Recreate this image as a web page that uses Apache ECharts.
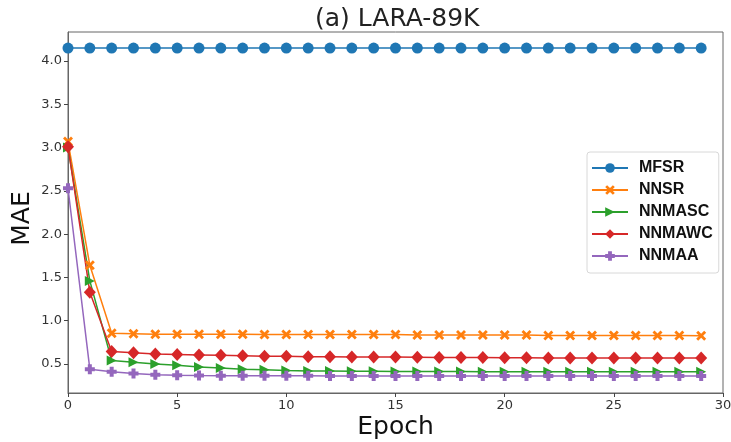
<!DOCTYPE html>
<html>
<head>
<meta charset="utf-8">
<title>(a) LARA-89K</title>
<script src="https://cdn.jsdelivr.net/npm/echarts@6/dist/echarts.min.js"></script>
<style>
  html, body { margin: 0; padding: 0; background: #fff; }
  #main { width: 731px; height: 442px; }
</style>
</head>
<body>
<div id="main"></div>
<script>
// values
var epochs = [0, 1, 2, 3, 4, 5, 6, 7, 8, 9, 10, 11, 12, 13, 14, 15, 16, 17, 18, 19, 20, 21, 22, 23, 24, 25, 26, 27, 28, 29];
var mfsr = [4.15, 4.15, 4.15, 4.15, 4.15, 4.15, 4.15, 4.15, 4.15, 4.15, 4.15, 4.15, 4.15, 4.15, 4.15, 4.15, 4.15, 4.15, 4.15, 4.15, 4.15, 4.15, 4.15, 4.15, 4.15, 4.15, 4.15, 4.15, 4.15, 4.15];
var nnsr = [3.07, 1.64, 0.855, 0.85, 0.845, 0.845, 0.845, 0.845, 0.845, 0.84, 0.84, 0.84, 0.84, 0.84, 0.84, 0.84, 0.835, 0.835, 0.835, 0.835, 0.835, 0.835, 0.83, 0.83, 0.83, 0.83, 0.83, 0.83, 0.83, 0.825];
var nnmasc = [3.0, 1.46, 0.54, 0.52, 0.50, 0.485, 0.465, 0.455, 0.44, 0.435, 0.425, 0.42, 0.418, 0.415, 0.415, 0.413, 0.413, 0.412, 0.412, 0.41, 0.41, 0.41, 0.41, 0.41, 0.41, 0.41, 0.41, 0.41, 0.41, 0.41];
var nnmawc = [3.01, 1.33, 0.645, 0.63, 0.615, 0.61, 0.605, 0.60, 0.595, 0.59, 0.59, 0.585, 0.585, 0.58, 0.58, 0.58, 0.578, 0.575, 0.575, 0.575, 0.572, 0.572, 0.57, 0.57, 0.57, 0.57, 0.57, 0.57, 0.57, 0.57];
var nnmaa = [2.53, 0.44, 0.41, 0.39, 0.375, 0.37, 0.367, 0.365, 0.365, 0.365, 0.363, 0.363, 0.362, 0.362, 0.362, 0.361, 0.361, 0.36, 0.36, 0.36, 0.36, 0.36, 0.36, 0.36, 0.36, 0.36, 0.36, 0.36, 0.36, 0.36];
var names = ['MFSR', 'NNSR', 'NNMASC', 'NNMAWC', 'NNMAA'];
var yTicks = [0.5, 1.0, 1.5, 2.0, 2.5, 3.0, 3.5, 4.0];

var colors = ['#1f77b4', '#ff7f0e', '#2ca02c', '#d62728', '#9467bd'];
var symbols = [
    'circle',
    'path://M2,0 L5,3 L8,0 L10,2 L7,5 L10,8 L8,10 L5,7 L2,10 L0,8 L3,5 L0,2 Z',
    'path://M0,0 L10,5 L0,10 Z',
    'diamond',
    'path://M3,0 H7 V3 H10 V7 H7 V10 H3 V7 H0 V3 H3 Z'
];
var sizes = [11, 10, 10, [12, 13], 10];
var values = [mfsr, nnsr, nnmasc, nnmawc, nnmaa];

function pairs(vals) {
    var out = [];
    for (var i = 0; i < epochs.length; i++) {
        out.push([epochs[i], vals[i]]);
    }
    return out;
}

var series = [];
for (var k = 0; k < names.length; k++) {
    series.push({
        name: names[k],
        type: 'line',
        data: pairs(values[k]),
        symbol: symbols[k],
        symbolSize: sizes[k],
        showAllSymbol: true,
        lineStyle: {color: colors[k], width: 1.5},
        itemStyle: {color: colors[k]},
        animation: false
    });
}

var chart = echarts.init(document.getElementById('main'));
var font = 'DejaVu Sans';
chart.setOption({
    backgroundColor: '#fff',
    color: colors,
    title: {
        text: '(a) LARA-89K',
        left: 310,
        top: 2,
        textStyle: {fontFamily: font, fontSize: 25, fontWeight: 'normal', color: '#222'}
    },
    legend: {
        data: names,
        orient: 'vertical',
        left: 587,
        top: 152,
        itemWidth: 36,
        itemHeight: 12,
        itemGap: 6,
        padding: [8, 6, 9, 4],
        borderColor: '#d8d8d8',
        borderWidth: 1,
        borderRadius: 3,
        backgroundColor: 'rgba(255,255,255,0.85)',
        textStyle: {fontFamily: 'Liberation Sans', fontWeight: 'bold', fontSize: 16, color: '#111', padding: [0, 0, 0, 6]}
    },
    grid: {
        left: 68,
        right: 8,
        top: 32,
        bottom: 49,
        show: true,
        borderColor: '#666',
        borderWidth: 1,
        containLabel: false,
        outerBoundsMode: 'none'
    },
    xAxis: {
        type: 'value',
        min: 0,
        max: 30,
        interval: 5,
        name: 'Epoch',
        nameLocation: 'middle',
        nameGap: 22,
        nameMoveOverlap: false,
        nameTextStyle: {fontFamily: font, fontSize: 25, color: '#111', verticalAlign: 'top'},
        axisLine: {lineStyle: {color: '#666'}},
        axisTick: {length: 4, lineStyle: {color: '#444'}},
        axisLabel: {fontFamily: font, fontSize: 13, color: '#333', margin: 6},
        splitLine: {show: false}
    },
    yAxis: {
        type: 'value',
        min: 0.165,
        max: 4.335,
        name: 'MAE',
        nameLocation: 'middle',
        nameGap: 33,
        nameMoveOverlap: false,
        nameTextStyle: {fontFamily: font, fontSize: 25, color: '#111', padding: [0, 12, 0, 0]},
        axisLine: {lineStyle: {color: '#666'}},
        axisTick: {length: 4, lineStyle: {color: '#444'}, customValues: yTicks},
        axisLabel: {
            fontFamily: font, fontSize: 13, color: '#333', margin: 6,
            customValues: yTicks,
            formatter: function (v) { return v.toFixed(1); }
        },
        splitLine: {show: false}
    },
    series: series
});
</script>
</body>
</html>
